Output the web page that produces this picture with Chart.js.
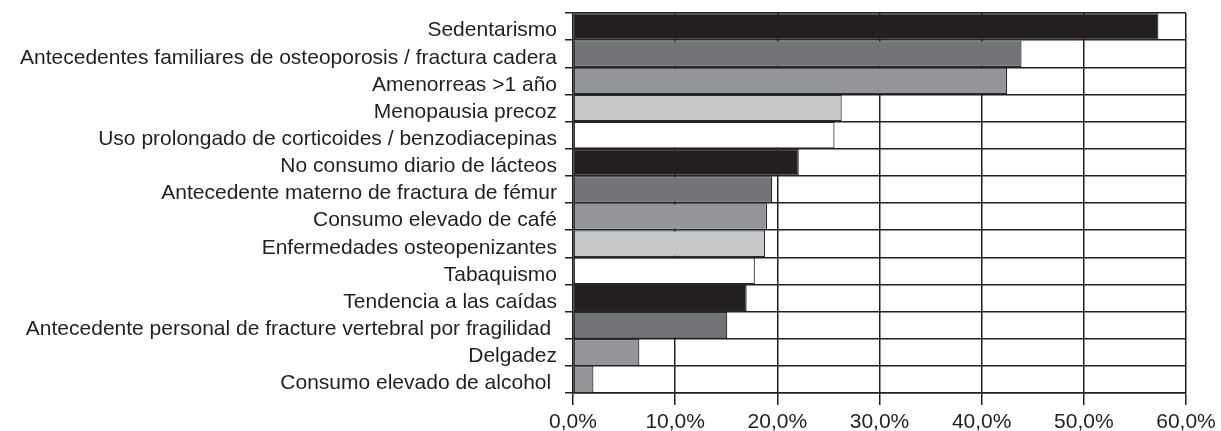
<!DOCTYPE html>
<html>
<head>
<meta charset="utf-8">
<script src="https://cdn.jsdelivr.net/npm/chart.js@4/dist/chart.umd.min.js"></script>
<style>
html,body{margin:0;padding:0;background:#fff;}
#wrap{width:1221px;height:431px;position:relative;}
</style>
</head>
<body>
<div id="wrap"><canvas id="c" width="1221" height="431"></canvas></div>
<script>
const categories = [
  "Sedentarismo",
  "Antecedentes familiares de osteoporosis / fractura cadera",
  "Amenorreas >1 año",
  "Menopausia precoz",
  "Uso prolongado de corticoides / benzodiacepinas",
  "No consumo diario de lácteos",
  "Antecedente materno de fractura de fémur",
  "Consumo elevado de café",
  "Enfermedades osteopenizantes",
  "Tabaquismo",
  "Tendencia a las caídas",
  "Antecedente personal de fracture vertebral por fragilidad ",
  "Delgadez",
  "Consumo elevado de alcohol "
];
const values = [57.3, 43.9, 42.5, 26.3, 25.6, 22.1, 19.5, 19.0, 18.8, 17.8, 17.0, 15.1, 6.5, 2.0];
const barColors = ["#231f20","#737477","#939598","#c7c8ca","#ffffff","#231f20","#737477","#939598","#c7c8ca","#ffffff","#231f20","#737477","#939598","#939598"];
const xTicks = [0, 10, 20, 30, 40, 50, 60];

const FONT = {family: "'Liberation Sans', Arial, sans-serif", size: 21};
const INK = "#231f20";

new Chart(document.getElementById('c'), {
  type: 'bar',
  data: {
    labels: categories,
    datasets: [{
      data: values,
      backgroundColor: barColors,
      borderColor: "#2b2b2b",
      borderWidth: 1.2,
      borderSkipped: false,
      barPercentage: 1.0,
      categoryPercentage: 0.98
    }]
  },
  options: {
    indexAxis: 'y',
    responsive: false,
    animation: false,
    devicePixelRatio: 1,
    layout: {padding: {left: 0, right: 35, top: 13, bottom: 0}},
    plugins: {legend: {display: false}, tooltip: {enabled: false}},
    scales: {
      x: {
        min: 0, max: 60,
        afterBuildTicks: (s) => { s.ticks = xTicks.map(v => ({value: v})); },
        afterFit: (s) => { s.height = 38; },
        ticks: {
          font: FONT, color: INK, padding: 5, maxRotation: 0,
          callback: (v) => v.toFixed(1).replace('.', ',') + '%'
        },
        grid: {color: INK, lineWidth: 1.5, tickLength: 12, drawTicks: true},
        border: {color: INK, width: 1.5}
      },
      y: {
        afterFit: (s) => { s.width = 573; s.paddingTop = 0; s.paddingBottom = 0; },
        ticks: {font: FONT, color: INK, padding: 8, autoSkip: false, labelOffset: 4},
        grid: {color: INK, lineWidth: 1.5, tickLength: 8, offset: true},
        border: {color: INK, width: 1.5}
      }
    }
  }
});
</script>
</body>
</html>
